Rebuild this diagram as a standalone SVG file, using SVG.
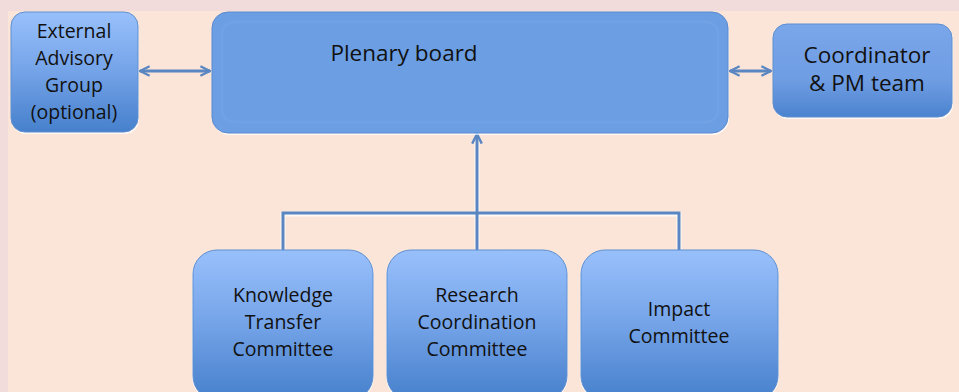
<svg xmlns="http://www.w3.org/2000/svg" width="959" height="392" viewBox="0 0 959 392">
<style>
.lbl{font-family:"Open Sans","Liberation Sans",sans-serif;fill:#111111;text-anchor:middle}
.s23{font-size:22.5px}
.s19{font-size:19.5px}
.s20{font-size:19.5px}
.con{fill:none;stroke:#5a86c2;stroke-width:3}
.glow{fill:none;stroke:#ffffff;stroke-width:5;opacity:0.8}
.box{stroke:#5f8fd0;stroke-width:1}
</style>
<defs>
<linearGradient id="g" x1="0" y1="0" x2="0" y2="1">
<stop offset="0" stop-color="#98c0fb"/>
<stop offset="0.45" stop-color="#78a6ea"/>
<stop offset="1" stop-color="#4680cc"/>
</linearGradient>
<linearGradient id="gc" x1="0" y1="0" x2="0" y2="1">
<stop offset="0" stop-color="#7aa6ea"/>
<stop offset="0.6" stop-color="#6f9de3"/>
<stop offset="1" stop-color="#4b83cf"/>
</linearGradient>
<marker id="ah" viewBox="0 0 10 10" refX="9" refY="5" markerWidth="4" markerHeight="4" orient="auto-start-reverse" markerUnits="strokeWidth">
<path d="M1,1 L9,5 L1,9" fill="none" stroke="#5a86c2" stroke-width="2"/>
</marker>
</defs>
<rect x="0" y="0" width="959" height="392" fill="#fbe5d8"/>
<rect x="0" y="0" width="959" height="11" fill="#f2dcdb"/>
<rect x="0" y="0" width="8" height="392" fill="#f2dcdb"/>

<g id="connectors">
<path class="glow" d="M283,251 V214 H679 V251 M477,251 V136"/>
<path class="con" d="M283,250 V213 H679 V250"/>
<path class="con" d="M477,250 V134" marker-end="url(#ah)"/>
<path class="con" d="M140,71 H210" marker-start="url(#ah)" marker-end="url(#ah)"/>
<path class="con" d="M730,71 H771" marker-start="url(#ah)" marker-end="url(#ah)"/>
</g>

<g id="external">
<rect x="12" y="14" width="127" height="120" rx="14" fill="#ffffff" opacity="0.7"/>
<rect class="box" x="11" y="12" width="127" height="120" rx="14" fill="url(#g)"/>
<text class="lbl s20" x="74" y="38">External</text>
<text class="lbl s20" x="74" y="65">Advisory</text>
<text class="lbl s20" x="74" y="92">Group</text>
<text class="lbl s20" x="74" y="119">(optional)</text>
</g>

<g id="plenary">
<rect x="213" y="15" width="516" height="120" rx="16" fill="#ffffff" opacity="0.7"/>
<rect x="212" y="12" width="516" height="121" rx="16" fill="#6b9ee2" stroke="#5a8ad0" stroke-width="1"/>
<rect x="222" y="22" width="496" height="100" rx="12" fill="none" stroke="#7aa8ea" stroke-width="3" opacity="0.35"/>
<text class="lbl s23" x="404" y="61">Plenary board</text>
</g>

<g id="coordinator">
<rect x="774" y="26" width="179" height="93" rx="14" fill="#ffffff" opacity="0.7"/>
<rect class="box" x="773" y="24" width="179" height="93" rx="14" fill="url(#gc)"/>
<text class="lbl s23" x="867" y="63">Coordinator</text>
<text class="lbl s23" x="867" y="91">&amp; PM team</text>
</g>

<g id="knowledge">
<rect x="192" y="251" width="182" height="150" rx="24" fill="#ffffff" opacity="0.7"/>
<rect class="box" x="193" y="250" width="180" height="150" rx="24" fill="url(#g)"/>
<text class="lbl s19" x="283" y="302">Knowledge</text>
<text class="lbl s19" x="283" y="329">Transfer</text>
<text class="lbl s19" x="283" y="356">Committee</text>
</g>

<g id="research">
<rect x="386" y="251" width="182" height="150" rx="24" fill="#ffffff" opacity="0.7"/>
<rect class="box" x="387" y="250" width="180" height="150" rx="24" fill="url(#g)"/>
<text class="lbl s19" x="477" y="302">Research</text>
<text class="lbl s19" x="477" y="329">Coordination</text>
<text class="lbl s19" x="477" y="356">Committee</text>
</g>

<g id="impact">
<rect x="580" y="251" width="199" height="150" rx="24" fill="#ffffff" opacity="0.7"/>
<rect class="box" x="581" y="250" width="197" height="150" rx="24" fill="url(#g)"/>
<text class="lbl s19" x="679" y="316">Impact</text>
<text class="lbl s19" x="679" y="343">Committee</text>
</g>
</svg>
